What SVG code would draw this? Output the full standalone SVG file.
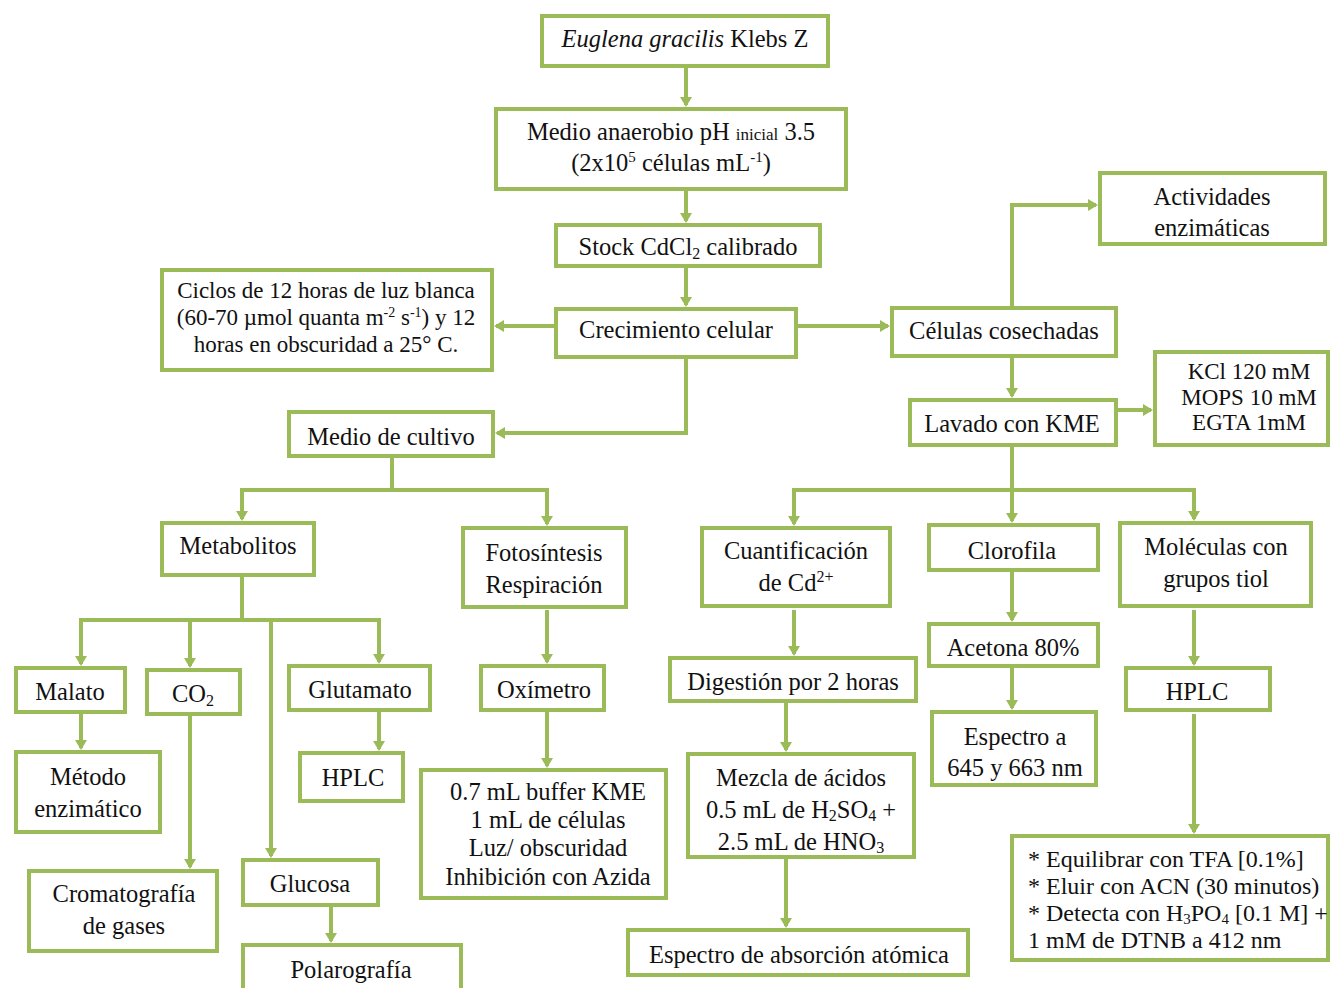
<svg xmlns="http://www.w3.org/2000/svg" width="1330" height="988" viewBox="0 0 1330 988">
<style>
.b{fill:#fff;stroke:#9BBB59;stroke-width:4}
.c{fill:none;stroke:#9BBB59;stroke-width:4;stroke-linecap:square;stroke-linejoin:miter}
text{font-family:"Liberation Serif","Times New Roman",serif;font-size:24.5px;fill:#111;text-anchor:middle}
.s{font-size:23px}
.l{text-anchor:start;font-size:24px}
</style>
<defs>
<marker id="ar" markerUnits="userSpaceOnUse" viewBox="0 0 10 12" markerWidth="10" markerHeight="12" refX="6" refY="6" orient="auto">
<path d="M0,0 L10,6 L0,12 z" fill="#9BBB59"/>
</marker>
</defs>
<rect width="1330" height="988" fill="#fff"/>
<g id="connectors" class="c">
<path class="c" d="M686,68 V103" marker-end="url(#ar)"/>
<path class="c" d="M686,191 V219" marker-end="url(#ar)"/>
<path class="c" d="M686,268 V303" marker-end="url(#ar)"/>
<path class="c" d="M554,326 H498" marker-end="url(#ar)"/>
<path class="c" d="M798,326 H886" marker-end="url(#ar)"/>
<path class="c" d="M686,359 V433 H499" marker-end="url(#ar)"/>
<path class="c" d="M1012,306 V205 H1094" marker-end="url(#ar)"/>
<path class="c" d="M1012,358 V394" marker-end="url(#ar)"/>
<path class="c" d="M1118,410 H1149" marker-end="url(#ar)"/>
<path class="c" d="M1012,447 V490 M794,490 H1194"/>
<path class="c" d="M794,490 V522" marker-end="url(#ar)"/>
<path class="c" d="M1012,490 V519" marker-end="url(#ar)"/>
<path class="c" d="M1194,490 V517" marker-end="url(#ar)"/>
<path class="c" d="M392,458 V490 M242,490 H547"/>
<path class="c" d="M242,490 V517" marker-end="url(#ar)"/>
<path class="c" d="M547,490 V522" marker-end="url(#ar)"/>
<path class="c" d="M242,577 V620 M81,620 H379"/>
<path class="c" d="M81,620 V662" marker-end="url(#ar)"/>
<path class="c" d="M190,620 V664" marker-end="url(#ar)"/>
<path class="c" d="M271,620 V854" marker-end="url(#ar)"/>
<path class="c" d="M379,620 V660" marker-end="url(#ar)"/>
<path class="c" d="M81,714 V746" marker-end="url(#ar)"/>
<path class="c" d="M190,716 V865" marker-end="url(#ar)"/>
<path class="c" d="M379,712 V747" marker-end="url(#ar)"/>
<path class="c" d="M331,907 V939" marker-end="url(#ar)"/>
<path class="c" d="M547,612 V660" marker-end="url(#ar)"/>
<path class="c" d="M547,712 V764" marker-end="url(#ar)"/>
<path class="c" d="M794,612 V652" marker-end="url(#ar)"/>
<path class="c" d="M786,703 V748" marker-end="url(#ar)"/>
<path class="c" d="M786,859 V924" marker-end="url(#ar)"/>
<path class="c" d="M1012,572 V618" marker-end="url(#ar)"/>
<path class="c" d="M1012,668 V706" marker-end="url(#ar)"/>
<path class="c" d="M1194,612 V662" marker-end="url(#ar)"/>
<path class="c" d="M1194,716 V830" marker-end="url(#ar)"/>
</g>
<g id="euglena"><rect class="b" x="542" y="16" width="286" height="50"/><text x="685" y="47"><tspan font-style="italic">Euglena gracilis</tspan> Klebs Z</text></g>
<g id="medio-anaerobio"><rect class="b" x="496" y="109" width="350" height="80"/><text x="671" y="140">Medio anaerobio pH <tspan font-size="17">inicial</tspan> 3.5</text><text x="671" y="171">(2x10<tspan font-size="15" dy="-9">5</tspan><tspan dy="9"> células mL</tspan><tspan font-size="15" dy="-9">-1</tspan><tspan dy="9">)</tspan></text></g>
<g id="stock"><rect class="b" x="556" y="225" width="264" height="41"/><text x="688" y="255">Stock CdCl<tspan font-size="16" dy="4">2</tspan><tspan dy="-4"> calibrado</tspan></text></g>
<g id="crecimiento"><rect class="b" x="556" y="309" width="240" height="48"/><text x="676" y="338">Crecimiento celular</text></g>
<g id="ciclos"><rect class="b" x="162" y="270" width="330" height="100"/><text class="s" x="326" y="298">Ciclos de 12 horas de luz blanca</text><text class="s" x="326" y="325">(60-70 µmol quanta m<tspan font-size="14" dy="-8">-2</tspan><tspan dy="8"> s</tspan><tspan font-size="14" dy="-8">-1</tspan><tspan dy="8">) y 12</tspan></text><text class="s" x="326" y="352">horas en obscuridad a 25° C.</text></g>
<g id="medio-cultivo"><rect class="b" x="289" y="412" width="204" height="44"/><text x="391" y="445">Medio de cultivo</text></g>
<g id="celulas"><rect class="b" x="892" y="308" width="224" height="48"/><text x="1004" y="339">Células cosechadas</text></g>
<g id="actividades"><rect class="b" x="1100" y="173" width="225" height="71"/><text x="1212" y="205">Actividades</text><text x="1212" y="236">enzimáticas</text></g>
<g id="lavado"><rect class="b" x="910" y="400" width="206" height="45"/><text x="1012" y="432">Lavado con KME</text></g>
<g id="kme"><rect class="b" x="1155" y="352" width="173" height="93"/><text class="s" x="1249" y="379">KCl 120 mM</text><text class="s" x="1249" y="405">MOPS 10 mM</text><text class="s" x="1249" y="430">EGTA 1mM</text></g>
<g id="metabolitos"><rect class="b" x="162" y="523" width="152" height="52"/><text x="238" y="554">Metabolitos</text></g>
<g id="fotosintesis"><rect class="b" x="463" y="528" width="163" height="79"/><text x="544" y="561">Fotosíntesis</text><text x="544" y="593">Respiración</text></g>
<g id="cuantificacion"><rect class="b" x="702" y="528" width="188" height="78"/><text x="796" y="559">Cuantificación</text><text x="796" y="591">de Cd<tspan font-size="16" dy="-9">2+</tspan></text></g>
<g id="clorofila"><rect class="b" x="929" y="525" width="169" height="45"/><text x="1012" y="559">Clorofila</text></g>
<g id="moleculas"><rect class="b" x="1120" y="523" width="191" height="83"/><text x="1216" y="555">Moléculas con</text><text x="1216" y="587">grupos tiol</text></g>
<g id="malato"><rect class="b" x="16" y="668" width="109" height="44"/><text x="70" y="700">Malato</text></g>
<g id="co2"><rect class="b" x="147" y="670" width="93" height="44"/><text x="193" y="702">CO<tspan font-size="16" dy="4">2</tspan></text></g>
<g id="glutamato"><rect class="b" x="289" y="666" width="141" height="44"/><text x="360" y="698">Glutamato</text></g>
<g id="oximetro"><rect class="b" x="481" y="666" width="123" height="44"/><text x="544" y="698">Oxímetro</text></g>
<g id="metodo"><rect class="b" x="16" y="752" width="144" height="80"/><text x="88" y="785">Método</text><text x="88" y="817">enzimático</text></g>
<g id="hplc-glutamato"><rect class="b" x="300" y="753" width="103" height="48"/><text x="353" y="786">HPLC</text></g>
<g id="buffer"><rect class="b" x="421" y="770" width="245" height="128"/><text x="548" y="800">0.7 mL buffer KME</text><text x="548" y="828">1 mL de células</text><text x="548" y="856">Luz/ obscuridad</text><text x="548" y="885">Inhibición con Azida</text></g>
<g id="cromatografia"><rect class="b" x="29" y="871" width="188" height="80"/><text x="124" y="902">Cromatografía</text><text x="124" y="934">de gases</text></g>
<g id="glucosa"><rect class="b" x="243" y="860" width="135" height="45"/><text x="310" y="892">Glucosa</text></g>
<g id="polarografia"><rect class="b" x="243" y="945" width="218" height="50"/><text x="351" y="978">Polarografía</text></g>
<g id="digestion"><rect class="b" x="670" y="658" width="246" height="43"/><text x="793" y="690">Digestión por 2 horas</text></g>
<g id="mezcla"><rect class="b" x="688" y="754" width="226" height="103"/><text x="801" y="786">Mezcla de ácidos</text><text x="801" y="818">0.5 mL de H<tspan font-size="16" dy="3">2</tspan><tspan dy="-3">SO</tspan><tspan font-size="16" dy="3">4</tspan><tspan dy="-3"> +</tspan></text><text x="801" y="850">2.5 mL de HNO<tspan font-size="16" dy="3">3</tspan></text></g>
<g id="espectro-aa"><rect class="b" x="628" y="930" width="340" height="45"/><text x="799" y="963">Espectro de absorción atómica</text></g>
<g id="acetona"><rect class="b" x="929" y="624" width="169" height="42"/><text x="1013" y="656">Acetona 80%</text></g>
<g id="espectro"><rect class="b" x="932" y="712" width="164" height="73"/><text x="1015" y="745">Espectro a</text><text x="1015" y="776">645 y 663 nm</text></g>
<g id="hplc-tiol"><rect class="b" x="1126" y="668" width="144" height="42"/><text x="1197" y="700">HPLC</text></g>
<g id="equilibrar"><rect class="b" x="1012" y="836" width="316" height="124"/><text class="l" x="1028" y="867">* Equilibrar con TFA [0.1%]</text><text class="l" x="1028" y="894">* Eluir con ACN (30 minutos)</text><text class="l" x="1028" y="921" font-size="23">* Detecta con H<tspan font-size="15" dy="3">3</tspan><tspan dy="-3">PO</tspan><tspan font-size="15" dy="3">4</tspan><tspan dy="-3"> [0.1 M] +</tspan></text><text class="l" x="1028" y="948">1 mM de DTNB a 412 nm</text></g>
</svg>
